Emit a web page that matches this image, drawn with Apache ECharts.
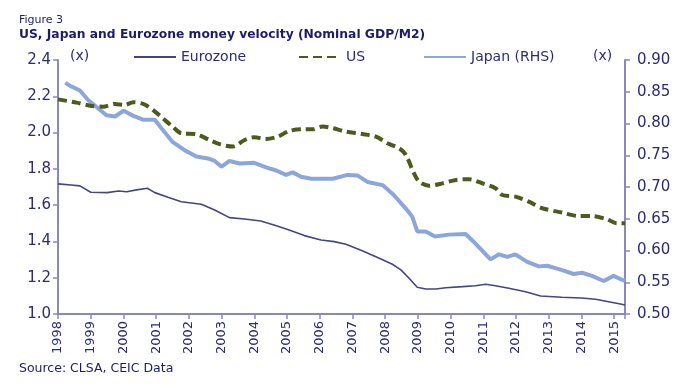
<!DOCTYPE html>
<html><head><meta charset="utf-8">
<script src="https://cdn.jsdelivr.net/npm/echarts@6/dist/echarts.min.js"></script>
<style>html,body{margin:0;padding:0;background:#fff}.c{width:690px;height:385px}</style>
</head><body><div id="c" class="c"></div>
<script>
const yearLabels = [1998,1999,2000,2001,2002,2003,2004,2005,2006,2007,2008,2009,2010,2011,2012,2013,2014,2015];
const euroX = [1998.0,1998.4,1998.67,1999.0,1999.5,1999.85,2000.1,2000.4,2000.73,2000.96,2001.36,2001.77,2002.38,2002.79,2003.24,2003.7,2004.2,2004.6,2005.0,2005.53,2006.04,2006.44,2006.8,2007.3,2007.82,2008.22,2008.48,2008.73,2008.98,2009.24,2009.55,2009.85,2010.36,2010.76,2011.07,2011.37,2011.78,2012.29,2012.75,2013.4,2014.0,2014.43,2014.83,2015.19,2015.33];
const euroY = [1.717,1.711,1.706,1.671,1.669,1.678,1.674,1.684,1.693,1.669,1.643,1.619,1.605,1.573,1.531,1.524,1.513,1.491,1.467,1.432,1.408,1.399,1.384,1.349,1.307,1.274,1.243,1.197,1.147,1.138,1.138,1.145,1.151,1.156,1.164,1.156,1.142,1.123,1.099,1.092,1.088,1.081,1.068,1.055,1.050];
const usX = [1998.0,1998.57,1998.98,1999.38,1999.74,2000.04,2000.3,2000.6,2000.9,2001.2,2001.5,2001.77,2002.23,2002.63,2002.94,2003.35,2003.7,2004.0,2004.36,2004.72,2005.07,2005.48,2005.78,2006.09,2006.4,2006.8,2007.3,2007.72,2008.07,2008.43,2008.63,2008.88,2009.04,2009.34,2009.75,2010.16,2010.56,2010.97,2011.37,2011.58,2011.98,2012.39,2012.8,2013.41,2013.91,2014.32,2014.78,2015.08,2015.33];
const usY = [2.183,2.165,2.148,2.143,2.158,2.152,2.167,2.158,2.125,2.079,2.033,1.996,1.991,1.959,1.936,1.923,1.959,1.974,1.965,1.978,2.009,2.018,2.018,2.033,2.024,2.005,1.992,1.977,1.941,1.913,1.877,1.776,1.729,1.707,1.720,1.739,1.743,1.720,1.693,1.656,1.647,1.619,1.583,1.559,1.540,1.540,1.522,1.500,1.500];
const japX = [1998.22,1998.42,1998.67,1998.92,1999.18,1999.48,1999.74,2000.01,2000.3,2000.6,2000.96,2001.2,2001.5,2001.87,2002.23,2002.58,2002.79,2003.0,2003.24,2003.55,2004.0,2004.36,2004.67,2004.97,2005.17,2005.43,2005.74,2006.4,2006.85,2007.16,2007.46,2007.92,2008.27,2008.63,2008.83,2008.98,2009.24,2009.52,2009.95,2010.46,2010.76,2011.22,2011.48,2011.73,2011.98,2012.34,2012.7,2012.95,2013.41,2013.76,2014.02,2014.32,2014.68,2014.98,2015.23,2015.33];
const japY = [0.864,0.858,0.852,0.837,0.826,0.813,0.811,0.820,0.812,0.806,0.806,0.790,0.771,0.758,0.748,0.745,0.741,0.732,0.741,0.737,0.738,0.731,0.726,0.719,0.723,0.716,0.713,0.713,0.719,0.718,0.708,0.703,0.687,0.666,0.653,0.630,0.630,0.622,0.625,0.626,0.611,0.586,0.594,0.590,0.594,0.582,0.575,0.576,0.569,0.563,0.565,0.560,0.552,0.560,0.554,0.552];

const zip = (xs, ys) => xs.map((x, i) => [x, ys[i]]);
const FONT = 'DejaVu Sans';
const NAVY = '#2b2b78';
const DARK = '#1c1c6b';
const AXIS = '#8a88bb';
const GRID = {left: 58, right: 65, top: 60, bottom: 71};

const legendBase = {top: 50, itemWidth: 42, itemHeight: 12, padding: 0, itemGap: 5,
  itemStyle: {opacity: 0, borderWidth: 0},
  textStyle: {fontFamily: FONT, fontSize: 14, color: NAVY}};
const mkTitle = (text, left, top, size, weight, color) => ({text: text, left: left, top: top, padding: 0,
  textStyle: {fontFamily: FONT, fontSize: size, fontWeight: weight, color: color}});
const option = {
  animation: false,
  title: [
    mkTitle('Figure 3', 19, 15, 11, 'normal', DARK),
    mkTitle('US, Japan and Eurozone money velocity (Nominal GDP/M2)', 19, 29, 12.3, 'bold', DARK),
    mkTitle('(x)', 70, 49, 14, 'normal', NAVY),
    mkTitle('(x)', 593, 49, 14, 'normal', NAVY),
    mkTitle('Source: CLSA, CEIC Data', 19, 362, 12.5, 'normal', DARK)
  ],
  legend: [
    Object.assign({}, legendBase, {left: 133, data: ['Eurozone']}),
    Object.assign({}, legendBase, {left: 298, data: ['US']}),
    Object.assign({}, legendBase, {left: 423, data: ['Japan (RHS)']})
  ],
  grid: [Object.assign({}, GRID), Object.assign({}, GRID)],
  xAxis: [
    {type: 'value', gridIndex: 0, min: 1998, max: 2015.33, interval: 1,
      axisLine: {lineStyle: {color: AXIS, width: 2}},
      axisTick: {length: 5, lineStyle: {color: AXIS, width: 1.5}},
      splitLine: {show: false},
      axisLabel: {show: false}},
    {type: 'value', gridIndex: 1, min: 1998, max: 2015.33, interval: 1,
      axisLine: {show: false}, axisTick: {show: false}, splitLine: {show: false},
      axisLabel: {rotate: 90, fontSize: 13, fontFamily: FONT, color: NAVY, margin: 7,
        showMaxLabel: false, formatter: v => String(Math.round(v))}}
  ],
  yAxis: [
    {type: 'value', gridIndex: 0, min: 1.0, max: 2.4, interval: 0.2, position: 'left',
      axisLine: {show: true, lineStyle: {color: AXIS, width: 2}},
      axisTick: {show: true, length: 5, lineStyle: {color: AXIS, width: 1.5}},
      splitLine: {show: false},
      axisLabel: {fontSize: 15, fontFamily: FONT, color: NAVY, margin: 7, formatter: v => v.toFixed(1)}},
    {type: 'value', gridIndex: 0, min: 0.5, max: 0.9, interval: 0.05, position: 'right',
      axisLine: {show: true, lineStyle: {color: AXIS, width: 2}},
      axisTick: {show: true, length: 5, lineStyle: {color: AXIS, width: 1.5}},
      splitLine: {show: false},
      axisLabel: {fontSize: 15, fontFamily: FONT, color: NAVY, margin: 12, formatter: v => v.toFixed(2)}},
    {type: 'value', gridIndex: 1, min: 0, max: 1, show: false}
  ],
  series: [
    {name: 'Eurozone', type: 'line', xAxisIndex: 0, yAxisIndex: 0, data: zip(euroX, euroY), symbol: 'none',
      lineStyle: {color: '#454585', width: 1.6}, itemStyle: {color: '#454585'}, z: 3},
    {name: 'US', type: 'line', xAxisIndex: 0, yAxisIndex: 0, data: zip(usX, usY), symbol: 'none', smooth: 0.3,
      lineStyle: {color: '#4d5a1f', width: 4, type: [9, 5]}, itemStyle: {color: '#4d5a1f'}, z: 2},
    {name: 'Japan (RHS)', type: 'line', xAxisIndex: 0, yAxisIndex: 1, data: zip(japX, japY), symbol: 'none',
      lineStyle: {color: '#8da6da', width: 4}, itemStyle: {color: '#8da6da'}, z: 1}
  ]
};
echarts.init(document.getElementById('c')).setOption(option);
</script></body></html>
